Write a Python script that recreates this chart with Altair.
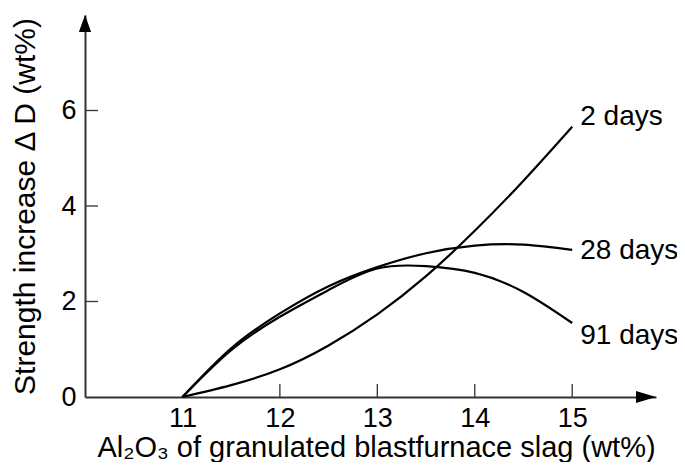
import altair as alt
import pandas as pd

# ---- data ----
al2o3 = [11, 11.5, 12, 12.5, 13, 13.5, 14, 14.5, 15]
days2 = [0, 0.25, 0.58, 1.08, 1.73, 2.53, 3.48, 4.53, 5.66]
days28 = [0, 1.02, 1.75, 2.32, 2.72, 3.01, 3.17, 3.19, 3.08]
days91 = [0, 0.98, 1.68, 2.24, 2.69, 2.74, 2.6, 2.2, 1.55]
series_names = ["2 days", "28 days", "91 days"]
label_dy = [-10, 1, 13]
x_ticks = [11, 12, 13, 14, 15]
y_ticks = [0, 2, 4, 6]
x_min, x_max = 10, 15.86
y_min, y_max = 0, 8

W, H = 571, 382
FONT = "Liberation Sans"
AXC = "#333333"

rows = []
for name, vals in zip(series_names, [days2, days28, days91]):
    for xv, yv in zip(al2o3, vals):
        rows.append({"x": xv, "y": yv, "series": name})
df = pd.DataFrame(rows)

xs = alt.Scale(domain=[x_min, x_max], nice=False, zero=False)
ys = alt.Scale(domain=[y_min, y_max], nice=False)

x_enc = alt.X("x:Q", scale=xs,
              axis=alt.Axis(values=x_ticks, format="d", tickSize=0, labelPadding=8,
                            labelFontSize=27,
                            title="Al₂O₃ of granulated blastfurnace slag (wt%)",
                            titleFontSize=29, titlePadding=2, titleX=291, grid=False))
y_enc = alt.Y("y:Q", scale=ys,
              axis=alt.Axis(values=y_ticks, tickSize=0, labelPadding=9,
                            labelFontSize=27,
                            title="Strength increase Δ D (wt%)",
                            titleFontSize=30, titlePadding=20, grid=False))

lines = alt.Chart(df).mark_line(color="black", strokeWidth=2.2, interpolate="natural").encode(
    x=x_enc, y=y_enc, detail="series:N"
)

labels = []
for name, vals, dy in zip(series_names, [days2, days28, days91], label_dy):
    d = pd.DataFrame({"x": [al2o3[-1]], "y": [vals[-1]], "t": [name]})
    labels.append(
        alt.Chart(d).mark_text(align="left", baseline="middle", dx=8, dy=dy,
                               fontSize=28, font=FONT, color="black")
        .encode(x=alt.X("x:Q", scale=xs), y=alt.Y("y:Q", scale=ys), text="t:N")
    )

xt = alt.Chart(pd.DataFrame({"v": x_ticks[1:]})).mark_rule(color=AXC, strokeWidth=1.3).encode(
    x=alt.X("v:Q", scale=xs), y=alt.value(H), y2=alt.value(H - 13)
)
yt = alt.Chart(pd.DataFrame({"v": y_ticks[1:]})).mark_rule(color=AXC, strokeWidth=1.3).encode(
    y=alt.Y("v:Q", scale=ys), x=alt.value(0), x2=alt.value(13)
)

up_arrow = alt.Chart(pd.DataFrame({"x": [x_min], "y": [y_max]})).mark_point(
    shape="M0,0 L-0.36,1 L0.36,1 Z", size=1156, filled=True, color="black", opacity=1
).encode(x=alt.X("x:Q", scale=xs), y=alt.Y("y:Q", scale=ys))
right_arrow = alt.Chart(pd.DataFrame({"x": [x_max], "y": [y_min]})).mark_point(
    shape="M0,0 L-1,-0.3 L-1,0.3 Z", size=1600, filled=True, color="black", opacity=1
).encode(x=alt.X("x:Q", scale=xs), y=alt.Y("y:Q", scale=ys))

chart = alt.layer(lines, xt, yt, *labels, up_arrow, right_arrow).properties(
    width=W, height=H,
    autosize=alt.AutoSizeParams(type="none"),
    padding={"left": 77, "top": 7, "right": 21, "bottom": 65},
).configure_view(stroke=None).configure_axis(
    domainColor=AXC, domainWidth=2, labelFont=FONT, titleFont=FONT,
    labelColor="black", titleColor="black", titleFontWeight="normal"
)

chart.save("out.html", embed_options={"renderer": "svg", "actions": False})
